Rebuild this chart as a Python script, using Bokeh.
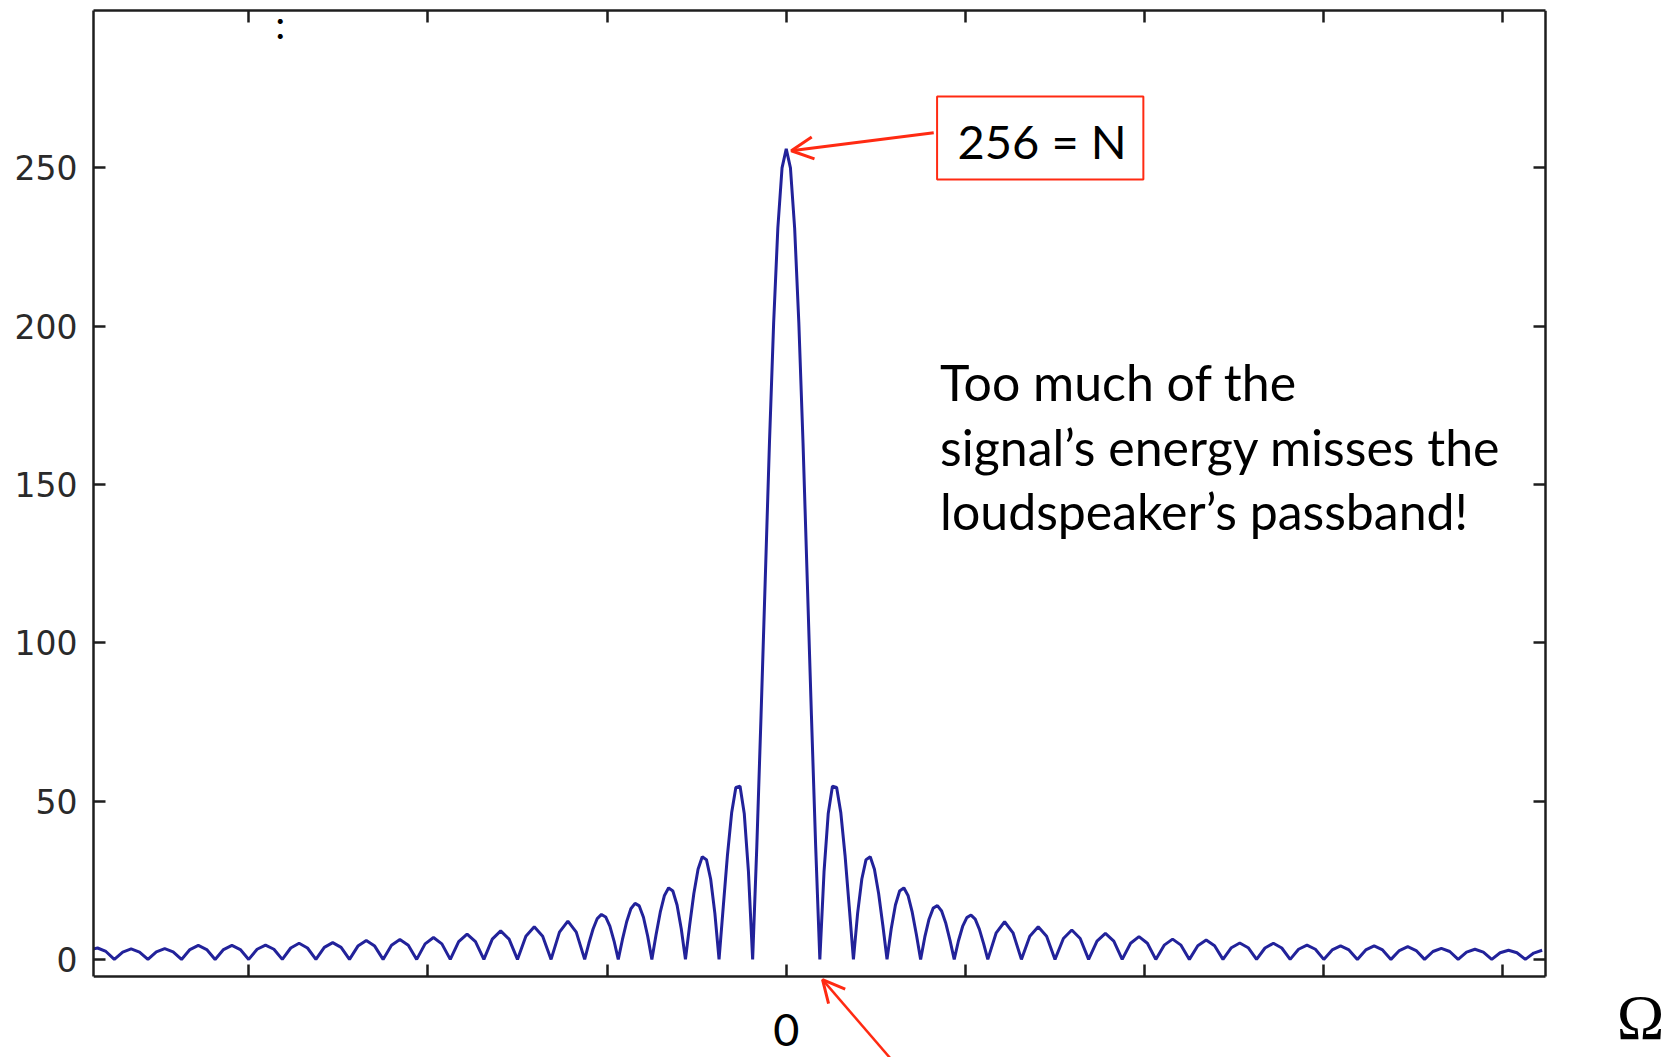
import numpy as np
from bokeh.plotting import figure
from bokeh.models import Range1d, LinearAxis, FixedTicker, Label, BoxAnnotation, Arrow, OpenHead
from bokeh.embed import file_html
from bokeh.resources import INLINE

# Frequency axis in DFT bins. Outer lobes read every 1/4 bin, the central
# region (|bin| < 6) read every 1/8 bin.
outer_left_start, outer_step = -20.75, 0.25
center_start, center_step = -5.875, 0.125
outer_right_start = 6.25

# |X(Omega)|
outer_left = [
    3.0, 3.6, 2.5, 0.0,      # partial lobe at the left edge
    2.3, 3.3, 2.3, 0.0,      # sidelobe 19
    2.4, 3.4, 2.4, 0.0,      # 18
    3.1, 4.4, 3.1, 0.0,      # 17
    3.1, 4.4, 3.1, 0.0,      # 16
    3.2, 4.5, 3.2, 0.0,      # 15
    3.6, 5.1, 3.6, 0.0,      # 14
    3.8, 5.3, 3.8, 0.0,      # 13
    4.2, 6.0, 4.2, 0.0,      # 12
    4.5, 6.3, 4.5, 0.0,      # 11
    4.9, 6.9, 4.9, 0.0,      # 10
    5.6, 8.0, 5.6, 0.0,      # 9
    6.4, 9.0, 6.4, 0.0,      # 8
    7.3, 10.3, 7.3, 0.0,     # 7
    8.6, 12.1, 8.6, 0.0,     # 6
]
center = [
    5.1, 9.6, 12.9, 14.2, 13.4, 10.5, 5.8, 0.0,        # sidelobe 5 (left)
    6.3, 11.9, 16.0, 17.7, 16.9, 13.3, 7.4, 0.0,       # 4
    7.8, 14.9, 20.2, 22.6, 21.6, 17.2, 9.7, 0.0,       # 3
    10.8, 20.8, 28.5, 32.4, 31.5, 25.4, 14.6, 0.0,     # 2
    16.6, 32.9, 46.3, 54.3, 54.7, 46.1, 27.7, 0.0,     # 1
    36.0, 77.0, 120.0, 163.0, 201.0, 231.0, 250.0, 256.0,   # main lobe
    250.0, 231.0, 201.0, 163.0, 120.0, 77.0, 36.0, 0.0,
    27.7, 46.1, 54.7, 54.3, 46.3, 32.9, 16.6, 0.0,     # sidelobe 1 (right)
    14.6, 25.4, 31.5, 32.4, 28.5, 20.8, 10.8, 0.0,     # 2
    9.7, 17.2, 21.6, 22.6, 20.2, 14.9, 7.8, 0.0,       # 3
    7.1, 12.7, 16.2, 17.0, 15.3, 11.4, 6.0, 0.0,       # 4
    5.8, 10.4, 13.2, 14.0, 12.7, 9.5, 5.0, 0.0,        # 5
]
outer_right = [
    8.4, 11.9, 8.4, 0.0,     # sidelobe 6
    7.3, 10.3, 7.3, 0.0,     # 7
    6.6, 9.3, 6.6, 0.0,      # 8
    5.8, 8.2, 5.8, 0.0,      # 9
    5.1, 7.2, 5.1, 0.0,      # 10
    4.5, 6.4, 4.5, 0.0,      # 11
    4.3, 6.1, 4.3, 0.0,      # 12
    3.7, 5.2, 3.7, 0.0,      # 13
    3.6, 5.1, 3.6, 0.0,      # 14
    3.2, 4.5, 3.2, 0.0,      # 15
    3.0, 4.3, 3.0, 0.0,      # 16
    3.0, 4.3, 3.0, 0.0,      # 17
    2.8, 4.0, 2.8, 0.0,      # 18
    2.5, 3.5, 2.5, 0.0,      # 19
    2.3, 3.2, 2.3, 0.0,      # 20
    2.1, 2.9, 2.1, 0.0,      # 21
    2.0, 2.9,                # partial lobe at the right edge
]

x_ticks = [-16, -32 / 3, -16 / 3, 0, 16 / 3, 32 / 3, 16, 64 / 3]
y_ticks = [0, 50, 100, 150, 200, 250]

omega = np.concatenate([
    outer_left_start + outer_step * np.arange(len(outer_left)),
    center_start + center_step * np.arange(len(center)),
    outer_right_start + outer_step * np.arange(len(outer_right)),
])
magnitude = outer_left + center + outer_right

RED = "#ff2a12"
BLUE = "#22229a"
AX = "#1e1e1e"

# Axis box limits
X0, X1 = -20.62, 22.6
Y0, Y1 = -5.4, 299.7

# Page geometry: the axis box spans x 93..1545, y 10..976 of the 1671x1057 page;
# the plotting frame extends to the right and bottom page edges so that the
# annotations below / right of the box can be drawn.
W, H = 1671, 1057
BOX_L, BOX_R, BOX_T, BOX_B = 93, 1545, 10, 976
px_per_bin = (BOX_R - BOX_L) / (X1 - X0)
px_per_unit = (BOX_B - BOX_T) / (Y1 - Y0)

p = figure(width=W, height=H, output_backend="svg", toolbar_location=None,
           x_range=Range1d(X0, X1 + (W - BOX_R) / px_per_bin),
           y_range=Range1d(Y1 - (H - BOX_T) / px_per_unit, Y1),
           min_border_left=BOX_L, min_border_right=0, min_border_top=BOX_T,
           min_border_bottom=0)
p.background_fill_color = "white"
p.border_fill_color = "white"
p.outline_line_color = None
p.grid.visible = False

p.line(omega, magnitude, line_color=BLUE, line_width=3)

def style_axis(ax, ticks):
    ax.ticker = FixedTicker(ticks=ticks)
    ax.major_tick_in = 12
    ax.major_tick_out = 0
    ax.minor_tick_line_color = None
    ax.axis_line_width = 2.5
    ax.axis_line_color = AX
    ax.major_tick_line_width = 2.5
    ax.major_tick_line_color = AX

style_axis(p.xaxis[0], x_ticks)
p.xaxis.major_label_text_color = None
p.xaxis.major_label_standoff = 0
p.xaxis.fixed_location = Y0
p.xaxis.bounds = (X0, X1)

style_axis(p.yaxis[0], y_ticks)
p.yaxis.bounds = (Y0, Y1)
p.yaxis.major_label_text_font = "DejaVu Sans"
p.yaxis.major_label_text_font_size = "33px"
p.yaxis.major_label_text_color = "#2a2a2a"
p.yaxis.major_label_standoff = 16

top = LinearAxis(major_label_text_color=None, major_label_standoff=0, bounds=(X0, X1))
style_axis(top, x_ticks)
p.add_layout(top, "above")
right = LinearAxis(major_label_text_color=None, major_label_standoff=0, bounds=(Y0, Y1),
                   fixed_location=X1)
style_axis(right, y_ticks)
p.add_layout(right, "right")

# Annotations
p.add_layout(BoxAnnotation(left=4.49, right=10.63, top=272.5, bottom=246.3,
                           fill_alpha=0, line_color=RED, line_alpha=1, line_width=2))
p.add_layout(Label(x=5.1, y=258.5, text="256 = N", text_font="Lato", text_font_size="47px",
                   text_color="black", text_baseline="middle", text_align="left"))
p.add_layout(Arrow(end=OpenHead(line_color=RED, line_width=3, size=22),
                   x_start=4.39, y_start=261.1, x_end=0.15, y_end=255.4,
                   line_color=RED, line_width=3))

for ty, line in zip([182.4, 161.8, 141.6],
                    ["Too much of the", "signal\u2019s energy misses the", "loudspeaker\u2019s passband!"]):
    p.add_layout(Label(x=4.58, y=ty, text=line, text_font="Lato", text_font_size="50px",
                       text_color="black", text_baseline="middle", text_align="left"))

p.add_layout(Label(x=-15.06, y=295.5, text=":", text_font="Lato", text_font_size="40px",
                   text_color="black", text_baseline="middle", text_align="center"))

p.add_layout(Label(x=0, y=-22.2, text="0", text_font="Lato", text_font_size="45px",
                   text_color="black", text_baseline="middle", text_align="center"))
p.add_layout(Label(x=25.43, y=-18.5, text="\u03a9", text_font="Liberation Serif", text_font_size="64px",
                   text_color="black", text_baseline="middle", text_align="center"))
p.add_layout(Arrow(end=OpenHead(line_color=RED, line_width=3, size=22),
                   x_start=3.12, y_start=-31.5, x_end=1.08, y_end=-6.4,
                   line_color=RED, line_width=2.5))

open("out.html", "w").write(file_html(p, INLINE))
